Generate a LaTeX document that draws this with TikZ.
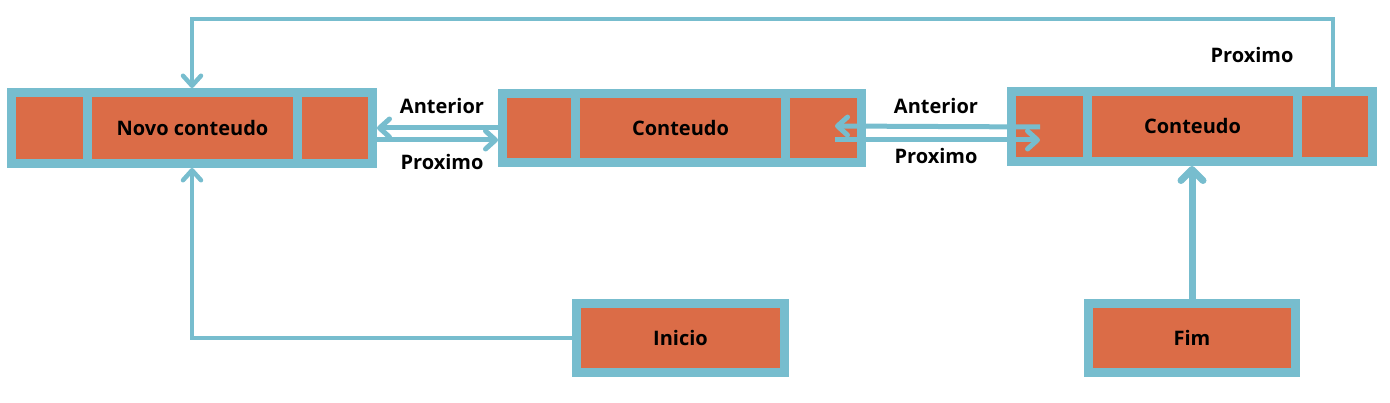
\documentclass[tikz,border=0pt]{standalone}
\usepackage{fontspec}
\setmainfont{Open Sans}
\usetikzlibrary{arrows.meta}
\definecolor{lblue}{HTML}{77BDCE}
\definecolor{rorange}{HTML}{DB6C47}
\tikzset{
  box/.style={draw=lblue, fill=rorange, line width=9pt, inner sep=0pt,
    font=\bfseries\fontsize{20}{24}\selectfont, text=black},
  lbl/.style={font=\bfseries\fontsize{20}{24}\selectfont, text=black, inner sep=0pt},
  conn/.style={draw=lblue, line width=5pt,
    -{Straight Barb[length=10pt,width=18pt,round]}},
  loopconn/.style={draw=lblue, line width=4.5pt,
    -{Straight Barb[length=10pt,width=18pt,round]}},
  fimconn/.style={draw=lblue, line width=7pt,
    -{Straight Barb[length=11pt,width=22pt,round]}}
}
\begin{document}
\begin{tikzpicture}[x=1pt,y=-1pt]
\useasboundingbox (0,0) rectangle (1390,403);
% list nodes
\node[box, minimum width=361pt, minimum height=71pt] (n1) at (192,128) {};
\node[box, minimum width=210pt, minimum height=71pt] (n1m) at (192.5,128) {Novo conteudo};
\node[box, minimum width=359pt, minimum height=69pt] (n2) at (682,128) {};
\node[box, minimum width=210pt, minimum height=69pt] (n2m) at (680.5,128) {Conteudo};
\node[box, minimum width=361pt, minimum height=70pt] (n3) at (1192,126.5) {};
\node[box, minimum width=210pt, minimum height=70pt] (n3m) at (1192.5,126.5) {Conteudo};
\node[box, minimum width=208pt, minimum height=69pt] (ini) at (680.5,338) {Inicio};
\node[box, minimum width=207pt, minimum height=69pt] (fim) at (1192,338) {Fim};
% labels
\node[lbl] (la1) at (442,106) {Anterior};
\node[lbl] (lp1) at (442,162) {Proximo};
\node[lbl] (la2) at (936,106) {Anterior};
\node[lbl] (lp2) at (936,156) {Proximo};
\node[lbl] (lp3) at (1252,55) {Proximo};
% connectors between n1 and n2
\draw[conn] (n2.west) -- (n1.east);
\draw[conn] ([yshift=-12pt]n1.east) -- ([yshift=-12pt]n2.west);
% connectors between n2 and n3
\coordinate (a2s) at ([xshift=33pt,yshift=-0.5pt]n3.west);
\coordinate (a2e) at ([xshift=-31pt,yshift=2pt]n2.east);
\coordinate (p2s) at ([xshift=-31pt,yshift=-12pt]n2.east);
\coordinate (p2e) at ([xshift=33pt,yshift=-13.5pt]n3.west);
\draw[conn] (a2s) -- (a2e);
\draw[conn] (p2s) -- (p2e);
% loop from n3 back to n1
\coordinate (ls) at ([xshift=-44pt]n3.north east);
\coordinate (lt) at (192,19);
\draw[loopconn] (ls) |- (lt) -- (n1.north);
% inicio and fim
\draw[loopconn] (ini.west) -| (n1.south);
\draw[fimconn] (fim.north) -- (n3.south);
\end{tikzpicture}
\end{document}
